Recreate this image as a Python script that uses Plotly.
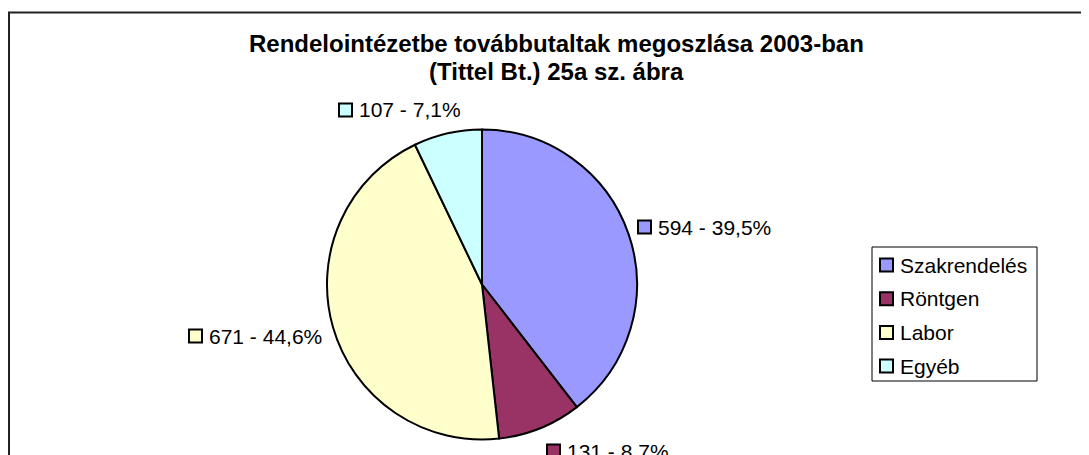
import plotly.graph_objects as go

# ---- data ----
categories = ["Szakrendelés", "Röntgen", "Labor", "Egyéb"]
values = [594, 131, 671, 107]
percent_labels = ["39,5%", "8,7%", "44,6%", "7,1%"]
colors = ["#9999FF", "#993366", "#FFFFCC", "#CCFFFF"]
title_lines = ["Rendelointézetbe továbbutaltak megoszlása 2003-ban",
               "(Tittel Bt.) 25a sz. ábra"]

# ---- layout helpers (screen pixel -> paper), compensating the 8px page margin ----
W, H = 1089, 455
OFF = 8
FONT = "Arial, Liberation Sans, sans-serif"


def px(x):
    return (x - OFF) / W


def py(y):
    return 1 - (y - OFF) / H


# pie area in screen pixels
pie_left, pie_right, pie_top, pie_bottom = 326.5, 637.5, 129.5, 439.5

# data label placement (text left edge, vertical centre) in screen pixels
label_pos = [(656, 227), (565, 451), (207, 336), (357, 110)]

fig = go.Figure()
fig.add_trace(go.Pie(
    labels=categories,
    values=values,
    sort=False,
    direction="clockwise",
    rotation=0,
    marker=dict(colors=colors, line=dict(color="black", width=2)),
    textinfo="none",
    hoverinfo="label+value+percent",
    showlegend=False,
    domain=dict(x=[px(pie_left), px(pie_right)], y=[py(pie_bottom), py(pie_top)]),
))

shapes = []
annotations = []

# outer frame (extends beyond the visible window on right/bottom)
shapes.append(dict(type="rect", xref="paper", yref="paper",
                   x0=px(9), x1=1.05, y0=-0.05, y1=py(12.5),
                   line=dict(color="#222222", width=2), fillcolor="rgba(0,0,0,0)"))

# title
for i, line in enumerate(title_lines):
    annotations.append(dict(x=px(556), y=py(44 + 28 * i), xref="paper", yref="paper",
                            text="<b>%s</b>" % line, showarrow=False,
                            xanchor="center", yanchor="middle",
                            font=dict(family=FONT, size=24, color="black")))

SW = 13
# data labels with swatches
for (tx, ty), v, p, c in zip(label_pos, values, percent_labels, colors):
    shapes.append(dict(type="rect", xref="paper", yref="paper",
                       x0=px(tx - 5 - SW), x1=px(tx - 5), y0=py(ty + SW / 2), y1=py(ty - SW / 2),
                       line=dict(color="black", width=2), fillcolor=c))
    annotations.append(dict(x=px(tx), y=py(ty), xref="paper", yref="paper",
                            text="%d - %s" % (v, p), showarrow=False,
                            xanchor="left", yanchor="middle",
                            font=dict(family=FONT, size=21, color="black")))

# custom legend
leg_x0, leg_x1, leg_y0, leg_y1 = 872, 1037, 247, 381
shapes.append(dict(type="rect", xref="paper", yref="paper",
                   x0=px(leg_x0), x1=px(leg_x1), y0=py(leg_y1), y1=py(leg_y0),
                   line=dict(color="black", width=1), fillcolor="white"))
for i, (cat, c) in enumerate(zip(categories, colors)):
    cy = 265 + 33.7 * i
    shapes.append(dict(type="rect", xref="paper", yref="paper",
                       x0=px(880), x1=px(880 + SW), y0=py(cy + SW / 2), y1=py(cy - SW / 2),
                       line=dict(color="black", width=2), fillcolor=c))
    annotations.append(dict(x=px(898), y=py(cy), xref="paper", yref="paper",
                            text=cat, showarrow=False, xanchor="left", yanchor="middle",
                            font=dict(family=FONT, size=21, color="black")))

fig.update_layout(
    width=W, height=H,
    margin=dict(l=0, r=0, t=0, b=0),
    paper_bgcolor="white", plot_bgcolor="white",
    shapes=shapes, annotations=annotations,
    showlegend=False,
)

fig.write_html("out.html", include_plotlyjs=True, config={"displayModeBar": False})
